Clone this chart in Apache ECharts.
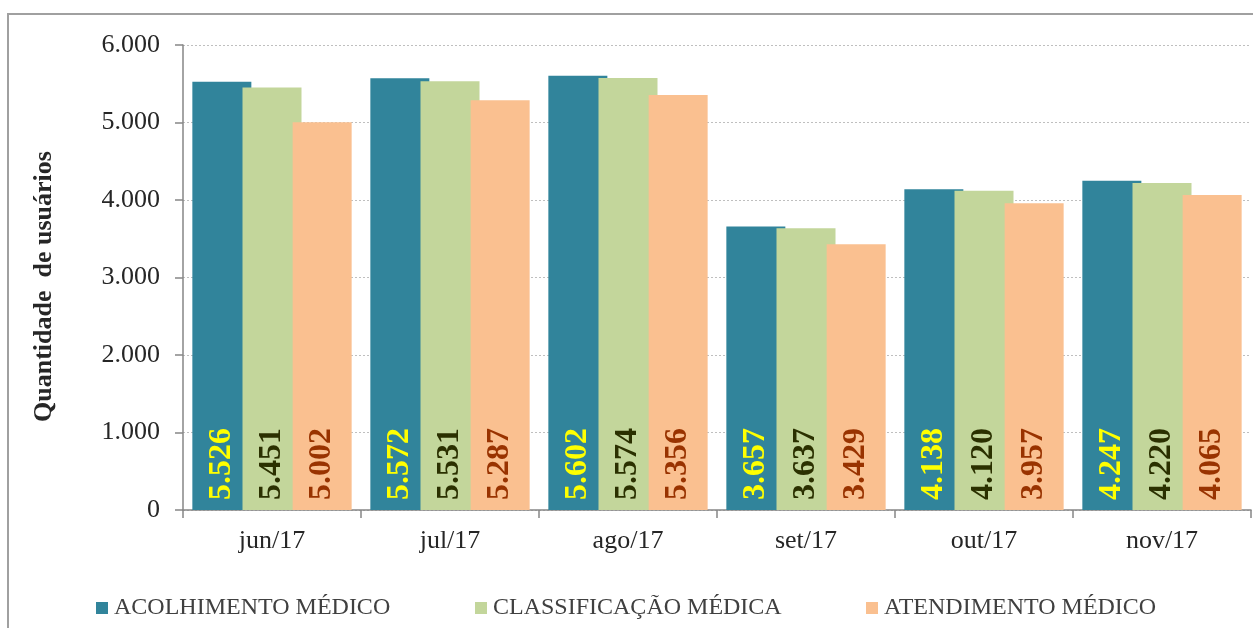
<!DOCTYPE html>
<html>
<head>
<meta charset="utf-8">
<script src="https://cdn.jsdelivr.net/npm/echarts@6/dist/echarts.min.js"></script>
<style>
  html, body { margin: 0; padding: 0; background: #ffffff; }
  #chart { width: 1253px; height: 628px; }
</style>
</head>
<body>
<div id="chart"></div>
<script>
const months = ["jun/17", "jul/17", "ago/17", "set/17", "out/17", "nov/17"];
const acolhimento = [5526, 5572, 5602, 3657, 4138, 4247];
const classificacao = [5451, 5531, 5574, 3637, 4120, 4220];
const atendimento = [5002, 5287, 5356, 3429, 3957, 4065];
const seriesNames = ["ACOLHIMENTO MÉDICO", "CLASSIFICAÇÃO MÉDICA", "ATENDIMENTO MÉDICO"];

const serif = "'Liberation Serif', 'Times New Roman', serif";
const barColors = ["#31849B", "#C3D69B", "#FAC090"];
const labelColors = ["#FFFF00", "#2B3000", "#993300"];

function fmt(v) {
  return String(v).replace(/\B(?=(\d{3})+(?!\d))/g, ".");
}

function makeSeries(name, data, i) {
  return {
    name: name,
    type: "bar",
    barWidth: 59,
    barGap: "-15%",
    itemStyle: { color: barColors[i] },
    label: {
      show: true,
      position: "insideBottom",
      rotate: 90,
      align: "left",
      verticalAlign: "middle",
      distance: 10,
      color: labelColors[i],
      fontFamily: serif,
      fontWeight: "bold",
      fontSize: 32,
      formatter: (p) => fmt(p.value),
    },
    data: data,
  };
}

const chart = echarts.init(document.getElementById("chart"), null, { renderer: "canvas" });

const legendBase = {
  top: 591,
  icon: "rect",
  itemWidth: 12,
  itemHeight: 12,
  itemGap: 0,
  textStyle: { color: "#404040", fontFamily: serif, fontSize: 24, padding: [2, 0, 0, 1] },
};

chart.setOption({
  animation: false,
  grid: { left: 183, right: 2, top: 45, bottom: 118 },
  graphic: [
    {
      type: "rect",
      shape: { x: 8, y: 14, width: 1300, height: 700 },
      style: { fill: "none", stroke: "#A0A0A0", lineWidth: 2 },
      silent: true,
    },
  ],
  legend: [
    Object.assign({}, legendBase, { left: 91, data: [seriesNames[0]] }),
    Object.assign({}, legendBase, { left: 470, data: [seriesNames[1]] }),
    Object.assign({}, legendBase, { left: 861, data: [seriesNames[2]] }),
  ],
  xAxis: {
    type: "category",
    data: months,
    axisLine: { lineStyle: { color: "#868686", width: 1.5 } },
    axisTick: { show: true, length: 8, lineStyle: { color: "#868686", width: 1.5 } },
    axisLabel: { color: "#262626", fontFamily: serif, fontSize: 26, margin: 18 },
  },
  yAxis: {
    type: "value",
    min: 0,
    max: 6000,
    interval: 1000,
    name: "Quantidade  de usuários",
    nameLocation: "middle",
    nameGap: 126,
    nameTextStyle: {
      color: "#262626",
      fontFamily: serif,
      fontWeight: "bold",
      fontSize: 26,
      padding: [0, 18, 0, 0],
    },
    axisLine: { show: true, lineStyle: { color: "#868686", width: 1.5 } },
    axisTick: { show: true, length: 8, lineStyle: { color: "#868686", width: 1.5 } },
    axisLabel: { color: "#262626", fontFamily: serif, fontSize: 26, margin: 23, formatter: (v) => fmt(v) },
    splitLine: { lineStyle: { color: "#BFBFBF", type: [2, 2], width: 1 } },
  },
  series: [
    makeSeries(seriesNames[0], acolhimento, 0),
    makeSeries(seriesNames[1], classificacao, 1),
    makeSeries(seriesNames[2], atendimento, 2),
  ],
});
</script>
</body>
</html>
